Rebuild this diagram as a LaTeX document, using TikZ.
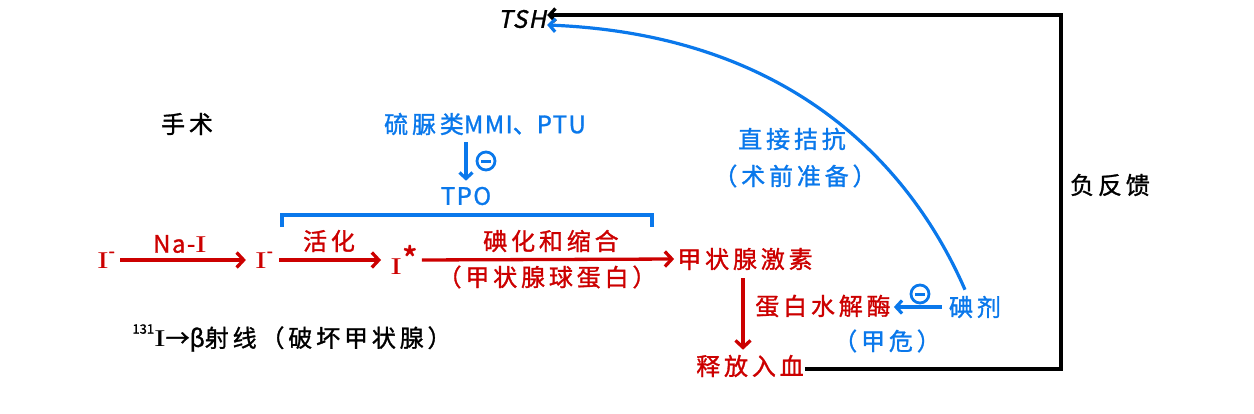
\documentclass[tikz,border=0pt]{standalone}
\usepackage{fontspec}
\setmainfont[FakeBold=1.2]{Noto Sans CJK SC}
\newfontfamily\cj[LetterSpace=16,FakeBold=1.2]{Noto Sans CJK SC}
\newfontfamily\lt[LetterSpace=6,FakeBold=1.2]{Noto Sans CJK SC}
\newfontfamily\slnt[FakeSlant=0.2,LetterSpace=6,FakeBold=1.2]{Noto Sans CJK SC}
\newfontfamily\serifI{Liberation Serif}
\newcommand\Iod{\scalebox{1.45}[1]{\serifI I}}
\newcommand\supminus{\raisebox{0.45em}{\fontsize{18}{18}\selectfont -}}
\usetikzlibrary{arrows.meta}
\definecolor{myred}{RGB}{204,0,0}
\definecolor{myblue}{RGB}{10,120,235}
\begin{document}
\begin{tikzpicture}[x=1pt,y=-1pt,
  every node/.style={inner sep=1pt, font=\fontsize{24}{28}\selectfont},
  rt/.style={text=myred}, bt/.style={text=myblue}, kt/.style={text=black},
  rarr/.style={draw=myred, line width=3.3pt, -{Straight Barb[length=7pt,width=15pt]}},
  barr/.style={draw=myblue, line width=3.2pt, -{Straight Barb[length=6pt,width=13pt]}},
  karr/.style={draw=black, line width=3.3pt, -{Straight Barb[length=6pt,width=13pt]}},
  mcirc/.style={circle, draw=myblue, line width=2.8pt, minimum size=18pt, inner sep=0pt,
    path picture={\draw[myblue, line width=3pt] ([xshift=-5pt]path picture bounding box.center) -- ([xshift=5pt]path picture bounding box.center);}}
]
\useasboundingbox (0,0) rectangle (1254,413);

% top
\node[kt] (tsh) at (522,19) {\slnt TSH};
\node[kt] (sx) at (187,124) {\cj 手术};
\node[bt] (thio) at (485,124) {{\cj 硫脲类}{\lt MMI}{\cj 、}{\lt PTU}};
\node[mcirc] (m1) at (486,161) {};
\node[bt] (tpo) at (466,196) {\lt TPO};
\node[bt] (zj) at (792,139) {\cj 直接拮抗};
\node[bt] (sq) at (795,176) {\cj （术前准备）};
\node[kt] (fk) at (1110,185) {\cj 负反馈};

% main chain
\node[rt] (i1) at (106,260) {\Iod\supminus};
\node[rt] (i2) at (264,260) {\Iod\supminus};
\node[rt] (i3) at (404,260) {\Iod\raisebox{0.12em}{\fontsize{34}{34}\selectfont *}};
\node[rt] (th) at (745,259) {\cj 甲状腺激素};
\node[rt] (lna) at (180,244) {\lt Na-\Iod};
\node[rt] (lhh) at (329,241) {\cj 活化};
\node[rt] (ldh) at (551,241) {\cj 碘化和缩合};
\node[rt] (ljq) at (547,277) {\cj （甲状腺球蛋白）};

\draw[rarr, shorten <=4pt, shorten >=8pt] (i1) -- (i2);
\draw[rarr, shorten <=5pt, shorten >=8pt] (i2) -- (i3);
\draw[rarr, shorten <=3pt, shorten >=2pt] (i3.east) -- (th.west);

% bracket
\draw[myblue, line width=3.3pt] (282,227) -- (282,215) -- (652,215) -- (652,227);
\draw[barr, shorten <=6pt, shorten >=5pt] (thio.south -| tpo.north) -- (tpo.north);

% lower right
\node[rt] (enz) at (823,306) {\cj 蛋白水解酶};
\node[bt] (jw) at (887,341) {\cj （甲危）};
\node[bt] (jj) at (975,307) {\cj 碘剂};
\node[mcirc] (m2) at (920,294) {};
\node[rt] (rel) at (750,366) {\cj 释放入血};

\draw[rarr, shorten <=7pt, shorten >=4pt] ([xshift=-2pt]th.south) -- ([xshift=-2pt]th.south |- rel.north);
\draw[barr, shorten <=6pt, shorten >=2pt] (jj.west) -- (jj.west -| enz.east);

% 131I
\node[kt] (i131) at (292,338) {\raisebox{0.55em}{\fontsize{13}{13}\selectfont 131}\Iod→β{\cj 射线（破坏甲状腺）}};

% feedback
\coordinate (fbB) at (1061,15);
\draw[karr] ([yshift=-3pt]rel.east) -| (fbB) -- (fbB -| tsh.east);
\draw[barr] ([xshift=-10pt,yshift=5pt]jj.north) .. controls (915,175) and (800,35) .. ([yshift=-6pt]tsh.east);
\end{tikzpicture}
\end{document}
